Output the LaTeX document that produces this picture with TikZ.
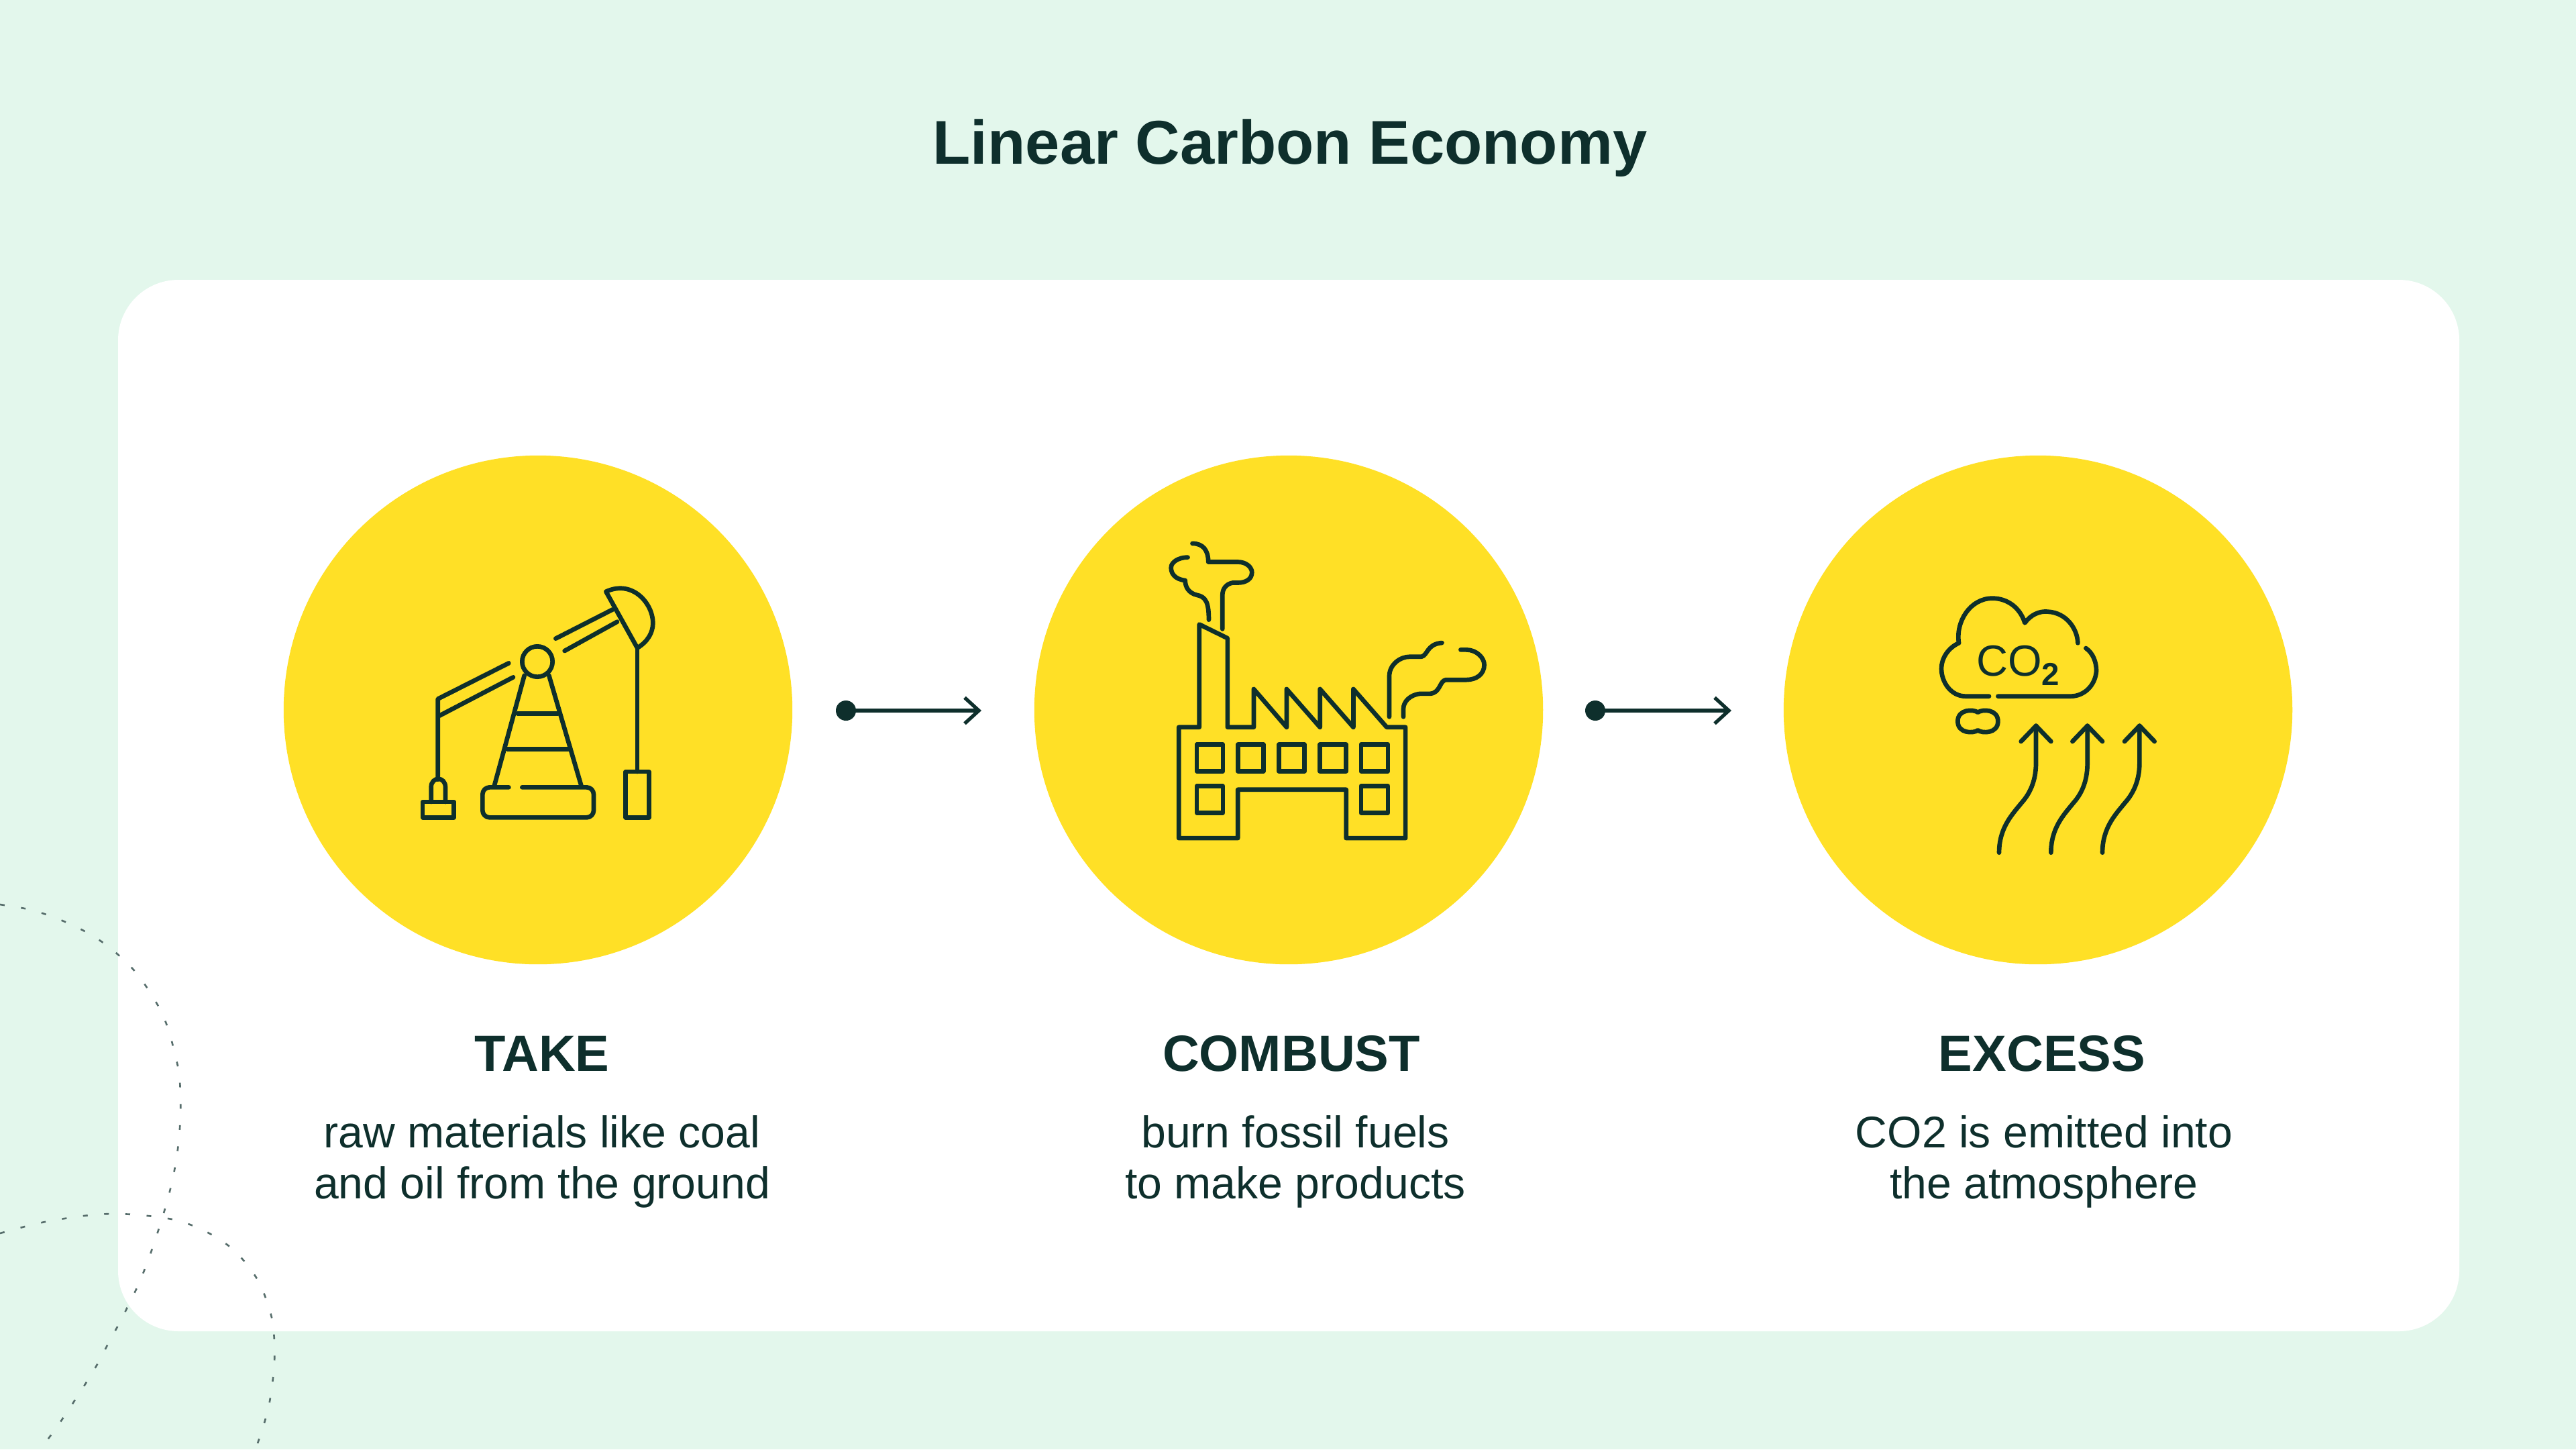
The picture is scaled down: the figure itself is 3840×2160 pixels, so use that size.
\documentclass[tikz,border=0pt]{standalone}
\usepackage{fontspec}
\setmainfont{Liberation Sans}
\usepackage{tikz}
\usetikzlibrary{arrows.meta}
\definecolor{mint}{HTML}{E3F7EC}
\definecolor{sun}{HTML}{FFE026}
\definecolor{ink}{HTML}{0E2F2C}
\tikzset{
  sunball/.style={circle,fill=sun,inner sep=0pt,minimum size=7.58cm},
  headline/.style={text=ink,font=\fontsize{26.2}{30}\selectfont\bfseries},
  steptitle/.style={text=ink,font=\fontsize{21.6}{25}\selectfont\bfseries},
  steptext/.style={text=ink,align=center,font=\fontsize{18.8}{21.6}\selectfont},
  iconline/.style={draw=ink,line width=1.9pt,line cap=round,line join=round},
  flowdot/.style={circle,fill=ink,inner sep=0pt,minimum size=0.3cm},
  flowline/.style={draw=ink,line width=1.5pt,-{Straight Barb[length=6pt,width=11pt,line width=1.5pt]},shorten <=-1pt},
  seam/.style={draw=ink!70!white,line width=0.75pt,dash pattern=on 2pt off 7pt}
}
\begin{document}
\begin{tikzpicture}[x=0.01cm,y=-0.01cm]
\useasboundingbox (0,0) rectangle (3840,2160);
\fill[mint] (0,0) rectangle (3840,2160);
\fill[white,rounded corners=0.9cm] (176,417) rectangle (3666,1984);
% dotted blobs bottom left
\draw[seam] plot[smooth] coordinates {(0,1348) (42,1355) (72,1364) (102,1376) (132,1391) (158,1408) (183,1429) (205,1452) (223,1478) (240,1507) (252,1537) (260,1568) (267,1599) (269,1632) (269,1663) (267,1695) (263,1727) (257,1759) (249,1791) (240,1821) (230,1852) (219,1883) (207,1913) (193,1942) (179,1970) (163,1999) (148,2028) (132,2055) (114,2083) (97,2109) (78,2136) (60,2160)};
\draw[seam] plot[smooth] coordinates {(0,1838) (41,1827) (72,1820) (103,1815) (134,1811) (166,1809) (198,1810) (229,1813) (261,1818) (291,1828) (319,1842) (345,1860) (367,1883) (385,1909) (397,1937) (406,1968) (409,1999) (409,2031) (406,2062) (401,2094) (393,2124) (381,2160)};

\node[headline] (title) at (1923,221) {Linear Carbon Economy};

\node[sunball] (take) at (802,1058) {};
\node[sunball] (combust) at (1921,1058) {};
\node[sunball] (excess) at (3038,1058) {};

\node[flowdot] (dota) at (1261,1059) {};
\coordinate (enda) at (1463,1059);
\draw[flowline] (dota) -- (enda);
\node[flowdot] (dotb) at (2378,1059) {};
\coordinate (endb) at (2581,1059);
\draw[flowline] (dotb) -- (endb);

\node[steptitle] (taketitle) at (808,1570) {TAKE};
\node[steptitle] (combusttitle) at (1925,1570) {COMBUST};
\node[steptitle] (excesstitle) at (3044,1570) {EXCESS};
\node[steptext] (taketext) at (808,1731) {raw materials like coal\\and oil from the ground};
\node[steptext] (combusttext) at (1931,1731) {burn fossil fuels\\to make products};
\node[steptext] (excesstext) at (3047,1731) {CO2 is emitted into\\the atmosphere};

% pump jack
\begin{scope}[shift={(560,800)},x=0.01cm/3,y=-0.01cm/3]
\draw[iconline] (278,1085) -- (278,725) -- (595,565);
\draw[iconline] (285,800) -- (615,628);
\draw[iconline] (805,455) -- (1060,325);
\draw[iconline] (845,510) -- (1080,380);
\draw[iconline] (1030,245) -- (1170,497) .. controls (1215,470) and (1240,430) .. (1240,385) .. controls (1240,300) and (1150,190) .. (1030,245) -- cycle;
\draw[iconline] (1170,497) -- (1170,1050);
\draw[iconline] (1118,1050) rectangle (1222,1255);
\draw[iconline] (723,558) circle (68);
\draw[iconline] (665,620) -- (530,1115);
\draw[iconline] (775,620) -- (920,1115);
\draw[iconline] (635,790) -- (815,790);
\draw[iconline] (590,950) -- (865,950);
\draw[iconline,rounded corners=3pt] (595,1120) -- (478,1120) -- (478,1255) -- (975,1255) -- (975,1120) -- (655,1120);
\draw[iconline] (210,1185) rectangle (350,1255);
\draw[iconline] (248,1185) -- (248,1120) .. controls (248,1070) and (312,1070) .. (312,1120) -- (312,1185);
\end{scope}

% factory
\begin{scope}[shift={(1650,760)},x=0.01cm/2.613,y=-0.01cm/2.904]
\draw[iconline] (360,940) -- (360,495) -- (470,555) -- (470,940) -- (572,940) -- (572,775) -- (700,940) -- (700,775) -- (830,940) -- (830,775) -- (960,940) -- (960,775) -- (1090,940) -- (1163,940) -- (1163,1420) -- (932,1420) -- (932,1210) -- (510,1210) -- (510,1420) -- (280,1420) -- (280,940) -- cycle;
\draw[iconline] (350,1015) rectangle (452,1130) (510,1015) rectangle (610,1130) (670,1015) rectangle (770,1130) (830,1015) rectangle (932,1130) (990,1015) rectangle (1095,1130);
\draw[iconline] (350,1195) rectangle (452,1310) (990,1195) rectangle (1095,1310);
\draw[iconline] (397,475) .. controls (397,400) and (385,375) .. (350,368) .. controls (320,360) and (305,335) .. (305,305) .. controls (265,300) and (250,275) .. (250,250) .. controls (250,225) and (280,205) .. (315,205);
\draw[iconline] (333,145) .. controls (375,145) and (395,175) .. (395,225) -- (510,225) .. controls (545,225) and (565,250) .. (565,270) .. controls (565,300) and (540,315) .. (510,315) -- (490,315) .. controls (465,320) and (450,340) .. (450,370) -- (450,515);
\draw[iconline] (1100,895) -- (1100,720) .. controls (1100,670) and (1140,635) .. (1180,635) -- (1225,635) .. controls (1250,630) and (1245,580) .. (1305,575);
\draw[iconline] (1378,605) -- (1400,605) .. controls (1440,605) and (1470,640) .. (1470,670) .. controls (1470,710) and (1440,735) .. (1400,735) -- (1320,735) .. controls (1295,740) and (1300,790) .. (1260,795) -- (1220,795) .. controls (1180,800) and (1155,830) .. (1155,860) -- (1155,895);
\end{scope}

% cloud and rising arrows
\begin{scope}[shift={(2820,860)},x=0.01cm/3,y=-0.01cm/3]
\draw[iconline] (435,533) -- (330,533) .. controls (265,533) and (222,470) .. (222,410) .. controls (222,360) and (255,315) .. (300,295) .. controls (285,200) and (350,95) .. (450,95) .. controls (520,95) and (575,140) .. (595,205) .. controls (620,170) and (660,150) .. (700,155) .. controls (780,160) and (830,230) .. (832,295);
\draw[iconline] (868,318) .. controls (900,340) and (915,380) .. (915,420) .. controls (910,485) and (860,533) .. (800,533) -- (475,533);
\node[text=ink,font=\fontsize{18.5}{20}\selectfont,inner sep=0pt] (cotwo) at (565,395) {CO\raisebox{-0.42ex}{\fontsize{13.5}{15}\selectfont\bfseries 2}};
\draw[iconline] (385,605) .. controls (365,590) and (295,590) .. (295,645) .. controls (295,700) and (365,700) .. (385,685) .. controls (405,700) and (475,700) .. (475,645) .. controls (475,590) and (405,590) .. (385,605) -- cycle;
\draw[iconline] (480,1232) .. controls (480,1120) and (540,1060) .. (580,1010) .. controls (625,960) and (645,900) .. (645,830) -- (645,665);
\draw[iconline] (578,735) -- (645,665) -- (712,735);
\draw[iconline] (712,1232) .. controls (712,1120) and (772,1060) .. (812,1010) .. controls (857,960) and (875,900) .. (875,830) -- (875,665);
\draw[iconline] (808,735) -- (875,665) -- (942,735);
\draw[iconline] (942,1232) .. controls (942,1120) and (1002,1060) .. (1042,1010) .. controls (1087,960) and (1108,900) .. (1108,830) -- (1108,665);
\draw[iconline] (1041,735) -- (1108,665) -- (1175,735);
\end{scope}
\end{tikzpicture}
\end{document}
